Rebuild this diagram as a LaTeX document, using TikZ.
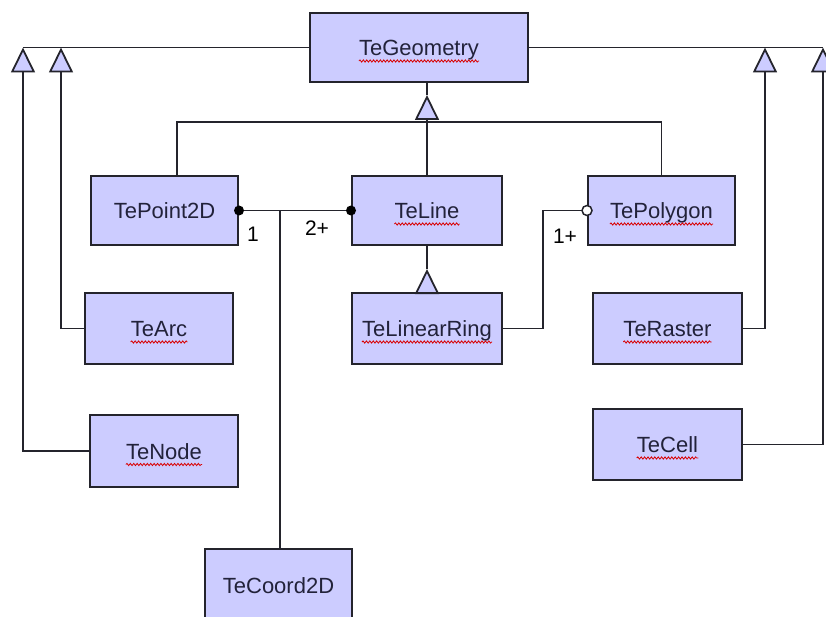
\documentclass[tikz,border=0pt]{standalone}
\usepackage{fontspec}
\setmainfont{Liberation Sans}
\usetikzlibrary{arrows.meta,decorations.pathmorphing}
\definecolor{boxfill}{RGB}{204,204,255}
\definecolor{ink}{RGB}{36,36,44}
\definecolor{txt}{RGB}{34,34,58}

\begin{document}
\begin{tikzpicture}[x=1pt,y=-1pt,
  cls/.style={draw=ink, line width=2pt, fill=boxfill, inner sep=0pt},
  lbl/.style={inner sep=0pt, text=txt, font=\fontsize{22}{26}\selectfont, anchor=base},
  mult/.style={inner sep=0pt, text=black, font=\fontsize{21}{24}\selectfont},
  conn/.style={draw=ink, line width=1.8pt},
  genarrow/.style={-{Triangle[width=24pt,length=25pt,fill=boxfill]}},
  squig/.style={draw=red!85!black, line width=0.8pt, decorate,
    decoration={snake, amplitude=1.1pt, segment length=3.4pt}}
]
\useasboundingbox (0,0) rectangle (826,617);
\clip (0,0) rectangle (826,617);

% class boxes
\node[cls, minimum width=218pt, minimum height=69pt] (bGeo)    at (419,47.5)  {};
\node[cls, minimum width=147pt, minimum height=69pt] (bPoint)  at (164.5,210.5) {};
\node[cls, minimum width=150pt, minimum height=69pt] (bLine)   at (427,210.5) {};
\node[cls, minimum width=147pt, minimum height=69pt] (bPoly)   at (661.5,210.5) {};
\node[cls, minimum width=148pt, minimum height=71pt] (bArc)    at (159,328.5) {};
\node[cls, minimum width=148pt, minimum height=72pt] (bNode)   at (164,451) {};
\node[cls, minimum width=150pt, minimum height=71pt] (bRing)   at (427,328.5) {};
\node[cls, minimum width=149pt, minimum height=71pt] (bRaster) at (667.5,328.5) {};
\node[cls, minimum width=149pt, minimum height=71pt] (bCell)   at (667.5,444.5) {};
\node[cls, minimum width=147pt, minimum height=72pt] (bCoord)  at (278.5,585) {};

% class names
\node[lbl] (tGeo)    at ([yshift=-8pt]bGeo.center)    {TeGeometry};
\node[lbl] (tPoint)  at ([yshift=-8pt]bPoint.center)  {TePoint2D};
\node[lbl] (tLine)   at ([yshift=-8pt]bLine.center)   {TeLine};
\node[lbl] (tPoly)   at ([yshift=-8pt]bPoly.center)   {TePolygon};
\node[lbl] (tArc)    at ([yshift=-8pt]bArc.center)    {TeArc};
\node[lbl] (tNode)   at ([yshift=-8pt]bNode.center)   {TeNode};
\node[lbl] (tRing)   at ([yshift=-8pt]bRing.center)   {TeLinearRing};
\node[lbl] (tRaster) at ([yshift=-8pt]bRaster.center) {TeRaster};
\node[lbl] (tCell)   at ([yshift=-8pt]bCell.center)   {TeCell};
\node[lbl] (tCoord)  at ([yshift=-8pt]bCoord.center)  {TeCoord2D};

% spell-checker squiggles
\foreach \n in {Geo,Line,Poly,Arc,Node,Ring,Raster,Cell}
  \draw[squig] ([yshift=-5.5pt]t\n.base west) -- ([yshift=-5.5pt]t\n.base east);

% outer generalisation bar
\coordinate (gL1) at (23,47.5);
\coordinate (gL2) at (61,47.5);
\coordinate (gR1) at (765,47.5);
\coordinate (gR2) at (823,47.5);
\draw[conn] (bGeo.west) -- (gL1);
\draw[conn] (bGeo.east) -- (gR2);
\draw[conn, genarrow] (bNode.west) -| (gL1);
\draw[conn, genarrow] (bArc.west) -| (gL2);
\draw[conn, genarrow] (bRaster.east) -| (gR1);
\draw[conn, genarrow] (bCell.east) -| (gR2);

% inner generalisation tree
\coordinate (gM) at (427,95);
\coordinate (bar) at (427,122);
\draw[conn] (gM) -- (gM |- bGeo.south);
\draw[conn] ([xshift=12.5pt]bPoint.north) |- (bPoly.north |- bar) -- (bPoly.north);
\draw[conn, genarrow] (bLine.north) -- (gM);

% TeLinearRing specialises TeLine
\coordinate (rTip) at (427,269);
\draw[conn] (bLine.south) -- (rTip);
\draw[conn, genarrow] (bRing.north) -- (rTip);

% TePoint2D -- TeLine association, with TeCoord2D
\coordinate (j) at (280,210.5);
\draw[conn] (bPoint.east) -- (bLine.west);
\draw[conn] (j) -- (j |- bCoord.north);
\fill[black] (bPoint.east) circle (5pt);
\fill[black] (bLine.west) circle (5pt);
\node[mult] (m1) at (253,234.5) {1};
\node[mult] (m2) at (317,228) {2+};

% TeLinearRing -- TePolygon aggregation
\coordinate (k) at (543,328.5);
\draw[conn] (bRing.east) -- (k) |- ([xshift=-5pt]bPoly.west);
\draw[draw=ink, line width=1.5pt, fill=white] (bPoly.west) circle (5pt);
\node[mult] (m3) at (565,236) {1+};
\end{tikzpicture}
\end{document}
